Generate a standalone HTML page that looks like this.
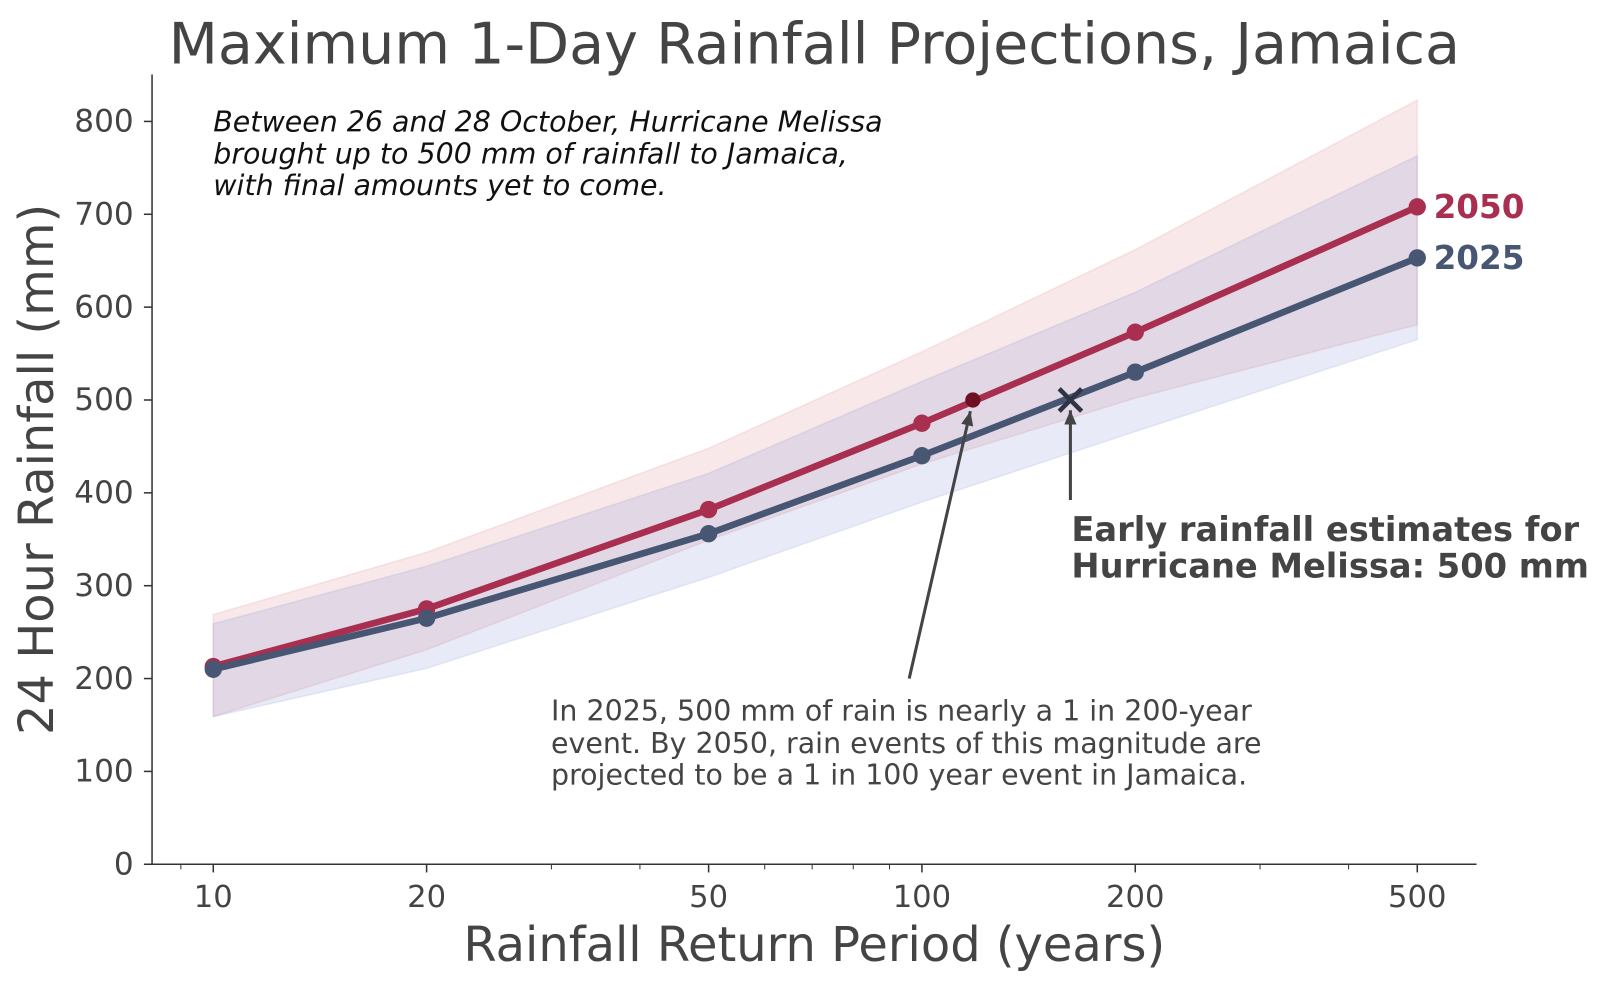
<!DOCTYPE html>
<html><head><meta charset="utf-8"><style>
body{margin:0;background:#fff;}
svg text{font-family:"DejaVu Sans","Liberation Sans",sans-serif;}
</style></head><body>
<svg id="chart" width="1600" height="986" viewBox="0 0 1568 966.3" xmlns="http://www.w3.org/2000/svg">
<text x="798" y="62" text-anchor="middle" font-size="56" fill="#444">Maximum 1-Day Rainfall Projections, Jamaica</text>
<g id="bands"></g><g id="lines"></g>
<g id="axes"></g>
<text transform="translate(52,460) rotate(-90)" text-anchor="middle" font-size="47" fill="#444">24 Hour Rainfall (mm)</text>
<text x="798" y="942" text-anchor="middle" font-size="47" fill="#444">Rainfall Return Period (years)</text>
<g font-size="27.9" font-style="italic" fill="#111">
<text x="209" y="129">Between 26 and 28 October, Hurricane Melissa</text>
<text x="209" y="160">brought up to 500 mm of rainfall to Jamaica,</text>
<text x="209" y="191">with final amounts yet to come.</text></g>
<g font-size="33" font-weight="bold" fill="#444">
<text x="1050" y="530">Early rainfall estimates for</text>
<text x="1050" y="566">Hurricane Melissa: 500 mm</text></g>
<g font-size="27.9" fill="#444">
<text x="540" y="706">In 2025, 500 mm of rain is nearly a 1 in 200-year</text>
<text x="540" y="738">event. By 2050, rain events of this magnitude are</text>
<text x="540" y="769">projected to be a 1 in 100 year event in Jamaica.</text></g>
<g id="annot"></g>
</svg>
<script>
const periods=[10,20,50,100,200,500];
const v2025=[210,265,356,440,530,653];
const v2050=[213,275,382,475,573,708];
const up2025=[259,321,421,520,616,763];
const lo2025=[159,211,309,390,466,565];
const up2050=[269,336,448,552,662,823];
const lo2050=[159,231,349,431,502,581];
const yTicks=[0,100,200,300,400,500,600,700,800];
const xTicks=[10,20,50,100,200,500];
const xMinor=[9,30,40,60,70,80,90,300,400];
const melissa=500, rp2050=118, rp2025=162;
const NS="http://www.w3.org/2000/svg";
const X=v=>209+694.5*Math.log10(v/10);
const Y=v=>847-0.91*v;
function mk(t,a,p){const e=document.createElementNS(NS,t);for(const k in a)e.setAttribute(k,a[k]);p.appendChild(e);return e;}
const bands=document.getElementById('bands'),lines=document.getElementById('lines'),axes=document.getElementById('axes'),annot=document.getElementById('annot');
function band(up,lo,fill,stroke,name){let d='M'+periods.map((p,i)=>X(p)+','+Y(up[i])).join('L')+'L'+periods.map((p,i)=>X(p)+','+Y(lo[i])).reverse().join('L')+'Z';
const e=mk('path',{d:d,fill:fill,stroke:stroke,'stroke-width':1.5},bands);

}
band(up2050,lo2050,'rgba(215,90,100,0.14)','rgba(215,90,100,0.12)','band-2050');
band(up2025,lo2025,'rgba(90,115,195,0.14)','rgba(90,115,195,0.12)','band-2025');
function series(vals,col,name){const e=mk('polyline',{points:periods.map((p,i)=>X(p)+','+Y(vals[i])).join(' '),fill:'none',stroke:col,'stroke-width':6.5,'stroke-linejoin':'round'},lines);


periods.forEach((p,i)=>{const c=mk('circle',{cx:X(p),cy:Y(vals[i]),r:8.5,fill:col},lines);

});
const t=mk('text',{x:X(500)+16,y:Y(vals[5])+11,'font-size':32,'font-weight':'bold',fill:col},lines);t.textContent=name;

}
series(v2050,'#a82f4f','2050');
series(v2025,'#475673','2025');
let s=mk('line',{x1:149,y1:73,x2:149,y2:847,stroke:'#333','stroke-width':1.5},axes);

s=mk('line',{x1:149,y1:847,x2:1447,y2:847,stroke:'#333','stroke-width':1.5},axes);

yTicks.forEach(v=>{mk('line',{x1:141,y1:Y(v),x2:149,y2:Y(v),stroke:'#333','stroke-width':1.5},axes);
const t=mk('text',{x:131,y:Y(v)+10,'text-anchor':'end','font-size':30.5,fill:'#444'},axes);t.textContent=v;

});
xTicks.forEach(v=>{mk('line',{x1:X(v),y1:847,x2:X(v),y2:855,stroke:'#333','stroke-width':1.5},axes);
const t=mk('text',{x:X(v),y:889,'text-anchor':'middle','font-size':30,fill:'#444'},axes);t.textContent=v;

});
xMinor.forEach(v=>mk('line',{x1:X(v),y1:847,x2:X(v),y2:852,stroke:'#333','stroke-width':1},axes));
const p=mk('circle',{cx:X(rp2050),cy:Y(melissa),r:7.5,fill:'#6e0f22'},annot);

const cx=X(rp2025),cy=Y(melissa);
const xm=mk('path',{d:`M${cx-11},${cy-11}L${cx+11},${cy+11}M${cx-11},${cy+11}L${cx+11},${cy-11}`,stroke:'#2e3443','stroke-width':4.5},annot);

function arrow(x1,y1,x2,y2,name){const g=mk('g',{},annot);

mk('line',{x1:x1,y1:y1,x2:x2,y2:y2,stroke:'#444','stroke-width':3},g);
const a=Math.atan2(y2-y1,x2-x1),L=14,W=6;
const bx=x2-L*Math.cos(a),by=y2-L*Math.sin(a);
mk('path',{d:`M${x2},${y2}L${bx+W*Math.sin(a)},${by-W*Math.cos(a)}L${bx-W*Math.sin(a)},${by+W*Math.cos(a)}Z`,fill:'#444'},g);}
arrow(891,665,951,403,'arrow-2050');
arrow(1049,490,1049,402,'arrow-estimate');
</script>
</body></html>
